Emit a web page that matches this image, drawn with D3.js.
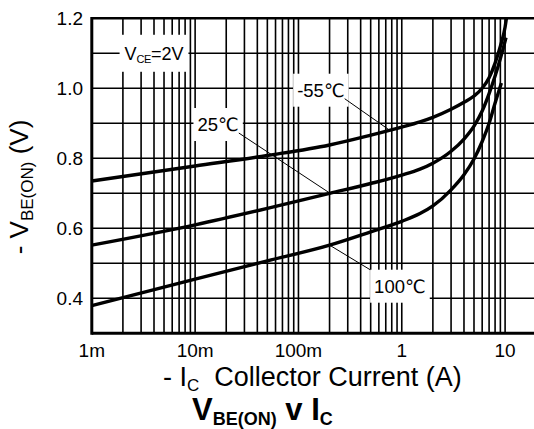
<!DOCTYPE html>
<html>
<head>
<meta charset="utf-8">
<script src="https://cdn.jsdelivr.net/npm/d3@7"></script>
<style>
  body { margin: 0; background: #fff; }
  text { font-family: "Liberation Sans", Arial, "DejaVu Sans", sans-serif; fill: #000; }
</style>
</head>
<body>
<div id="chart"></div>
<script>
var w = 534, h = 429;

// Curve data: current (A) and -VBE(on) (V)
var currentsM55 = [0.001, 0.01, 0.05, 0.2, 0.5, 1, 1.5, 2, 3, 4, 5, 6, 7, 8, 9, 10, 10.3];
var voltsM55    = [0.735, 0.778, 0.808, 0.838, 0.866, 0.889, 0.904, 0.917, 0.94, 0.96, 0.978, 1.0, 1.03, 1.072, 1.12, 1.175, 1.2];

var currents25 = [0.001, 0.01, 0.05, 0.2, 0.5, 1, 1.5, 2, 3, 4, 5, 6, 7, 8, 9, 10, 10.2];
var volts25    = [0.552, 0.61, 0.657, 0.7, 0.728, 0.752, 0.769, 0.786, 0.82, 0.855, 0.892, 0.935, 0.985, 1.035, 1.085, 1.135, 1.145];

var currents100 = [0.001, 0.01, 0.05, 0.2, 0.5, 1, 1.5, 2, 3, 4, 5, 6, 7, 8, 9.2];
var volts100    = [0.379, 0.455, 0.507, 0.552, 0.59, 0.62, 0.642, 0.664, 0.71, 0.753, 0.798, 0.848, 0.9, 0.958, 1.015];

var yTicks = [0.4, 0.6, 0.8, 1.0, 1.2];
var xTicks = [0.001, 0.01, 0.1, 1, 10];
var xTickLabels = ["1m", "10m", "100m", "1", "10"];

// Scales
var x = d3.scaleLog().domain([0.001, 10]).range([91.8, 505.1]);
var y = d3.scaleLinear().domain([0.3, 1.2]).range([333.3, 18.3]);

var svg = d3.select("#chart")
  .append("svg")
  .attr("width", w)
  .attr("height", h);

// Vertical grid: 1..9 per decade
var vGrid = [];
for (var d = -3; d < 1; d++) {
  for (var k = 1; k < 10; k++) {
    vGrid.push(k * Math.pow(10, d));
  }
}
vGrid.push(10);

svg.append("g").selectAll("line")
  .data(vGrid.slice(1))
  .enter().append("line")
  .attr("x1", function(v) { return x(v); })
  .attr("x2", function(v) { return x(v); })
  .attr("y1", y(1.2))
  .attr("y2", y(0.3))
  .attr("stroke", "#000")
  .attr("stroke-width", 1.6);

// Horizontal grid every 0.1 V, running to the edge of the picture
svg.append("g").selectAll("line")
  .data(d3.range(4, 12).map(function(i) { return i / 10; }))
  .enter().append("line")
  .attr("x1", x(0.001))
  .attr("x2", w)
  .attr("y1", function(v) { return y(v); })
  .attr("y2", function(v) { return y(v); })
  .attr("stroke", "#000")
  .attr("stroke-width", 1.6);

// Frame
svg.append("line").attr("x1", x(0.001)).attr("x2", w).attr("y1", y(1.2)).attr("y2", y(1.2))
  .attr("stroke", "#000").attr("stroke-width", 2.5);
svg.append("line").attr("x1", x(0.001)).attr("x2", w).attr("y1", y(0.3)).attr("y2", y(0.3))
  .attr("stroke", "#000").attr("stroke-width", 3);
svg.append("line").attr("x1", x(0.001)).attr("x2", x(0.001)).attr("y1", y(1.2) - 1.2).attr("y2", y(0.3) + 1.5)
  .attr("stroke", "#000").attr("stroke-width", 3);

// Tick labels
svg.append("g").selectAll("text")
  .data(yTicks)
  .enter().append("text")
  .attr("x", 83)
  .attr("y", function(v) { return y(v); })
  .attr("dy", "0.36em")
  .attr("text-anchor", "end")
  .style("font-size", "19px")
  .text(function(v) { return v.toFixed(1); });

svg.append("g").selectAll("text")
  .data(xTicks)
  .enter().append("text")
  .attr("x", function(v) { return x(v); })
  .attr("y", 357)
  .attr("text-anchor", "middle")
  .style("font-size", "19px")
  .text(function(v, i) { return xTickLabels[i]; });

// Curves
var line = d3.line()
  .x(function(p) { return x(p[0]); })
  .y(function(p) { return y(p[1]); })
  .curve(d3.curveMonotoneX);

var series = [
  d3.zip(currentsM55, voltsM55),
  d3.zip(currents25, volts25),
  d3.zip(currents100, volts100)
];

svg.append("g").selectAll("path")
  .data(series)
  .enter().append("path")
  .attr("d", line)
  .attr("fill", "none")
  .attr("stroke", "#000")
  .attr("stroke-width", 3.4)
  .attr("stroke-linecap", "butt");

// Annotations: label centre and leader target in data units
var notes = [
  { text: "-55℃", at: [0.165, 0.995], target: [0.74, 0.883], from: "br" },
  { text: "25℃", at: [0.0167, 0.897], target: [0.2, 0.701], from: "br" },
  { text: "100℃", at: [0.96, 0.435], target: [0.2, 0.552], from: "tl" }
];

notes.forEach(function(n) {
  var g = svg.append("g");
  var t = g.append("text")
    .attr("x", x(n.at[0]))
    .attr("y", y(n.at[1]))
    .attr("dy", "0.36em")
    .attr("text-anchor", "middle")
    .style("font-size", "18.5px")
    .text(n.text);
  var b = t.node().getBBox();
  g.insert("rect", "text")
    .attr("x", b.x - 4).attr("y", b.y - 6)
    .attr("width", b.width + 8).attr("height", b.height + 12)
    .attr("fill", "#fff");
  var sx = n.from === "br" ? b.x + b.width : b.x - 4;
  var sy = n.from === "br" ? b.y + b.height - 2 : b.y - 6;
  svg.append("line")
    .attr("x1", sx).attr("y1", sy)
    .attr("x2", x(n.target[0])).attr("y2", y(n.target[1]))
    .attr("stroke", "#000")
    .attr("stroke-width", 1);
});

// VCE = 2V label
var vce = svg.append("g");
var vt = vce.append("text")
  .attr("x", x(0.004))
  .attr("y", y(1.1))
  .attr("dy", "0.36em")
  .attr("text-anchor", "middle")
  .style("font-size", "18px");
vt.append("tspan").text("V");
vt.append("tspan").style("font-size", "11px").attr("dy", 3).attr("letter-spacing", "-0.5").text("CE");
vt.append("tspan").attr("dy", -3).text("=2V");
var vb = vt.node().getBBox();
vce.insert("rect", "text")
  .attr("x", vb.x - 5).attr("y", vb.y - 9)
  .attr("width", vb.width + 10).attr("height", vb.height + 16)
  .attr("fill", "#fff");

// Axis titles
var yt = svg.append("text")
  .attr("transform", "translate(28,187) rotate(-90)")
  .attr("text-anchor", "middle")
  .style("font-size", "26px");
yt.append("tspan").text("- V");
yt.append("tspan").style("font-size", "17px").attr("dy", 5).text("BE(ON)");
yt.append("tspan").attr("dy", -5).text(" (V)");

var xt = svg.append("text")
  .attr("x", 163)
  .attr("y", 386)
  .style("font-size", "27px");
xt.append("tspan").text("- I");
xt.append("tspan").style("font-size", "17px").attr("dy", 5).text("C");
xt.append("tspan").attr("dy", -5).text("\u00a0 Collector Current (A)");

var title = svg.append("text")
  .attr("x", 192)
  .attr("y", 420)
  .style("font-size", "31px")
  .style("font-weight", "bold");
title.append("tspan").text("V");
title.append("tspan").style("font-size", "18px").attr("dy", 5).text("BE(ON)");
title.append("tspan").attr("dy", -5).text(" v I");
title.append("tspan").style("font-size", "18px").attr("dy", 5).text("C");
</script>
</body>
</html>
